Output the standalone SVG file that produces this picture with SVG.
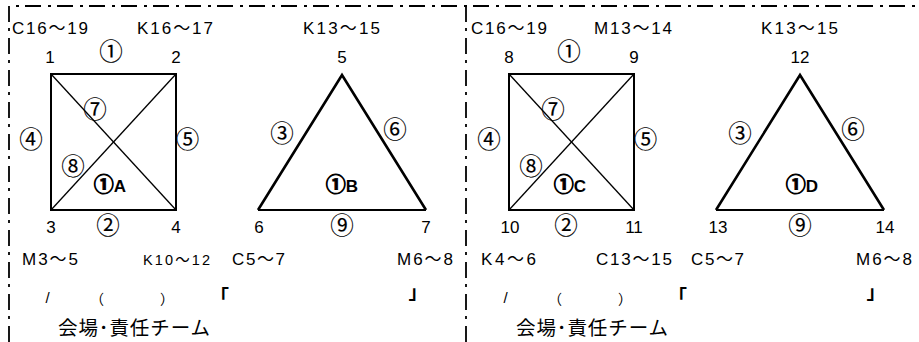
<svg xmlns="http://www.w3.org/2000/svg" width="919" height="342" viewBox="0 0 919 342">
<style>
text{fill:#000;font-family:"Liberation Sans","Noto Sans CJK JP",sans-serif}
.r{font-size:17px}
.rs{font-size:14.5px}
.n{font-size:17px;text-anchor:middle}
.c{font-family:"Noto Sans CJK JP",sans-serif;font-size:23.5px;text-anchor:middle;stroke:#000;stroke-width:0.15}
.b{font-size:17px;font-weight:bold;text-anchor:middle}
.bc{font-family:"Noto Sans CJK JP",sans-serif;font-size:20px;font-weight:bold;stroke:#000;stroke-width:0.9}
.p{font-family:"Noto Sans CJK JP",sans-serif;font-size:14px}
.k{font-family:"Noto Sans CJK JP",sans-serif;font-size:19px;font-weight:bold}
.s{font-family:"Liberation Sans",sans-serif;font-size:15px;text-anchor:middle}
.j{font-family:"Noto Sans CJK JP",sans-serif;font-size:19.5px}
.frame{fill:none;stroke:#000;stroke-width:1.8;stroke-dasharray:16 7 3 6}
.sq{fill:none;stroke:#000;stroke-width:2}
.dg{stroke:#000;stroke-width:1.3}
.ts{fill:none;stroke:#000;stroke-width:2.6;stroke-linejoin:miter}
.tb{stroke:#000;stroke-width:2}
</style>
<rect width="919" height="342" fill="#fff"/>
<g id="frame">
<path class="frame" d="M9,342 V6 H919"/>
<path class="frame" d="M466,342 V6"/>
</g>
<g id="connectors">
<line class="dg" x1="51" y1="74" x2="176" y2="210"/>
<line class="dg" x1="176" y1="74" x2="51" y2="210"/>
<line class="dg" x1="509" y1="74" x2="634" y2="210"/>
<line class="dg" x1="634" y1="74" x2="509" y2="210"/>
</g>
<g id="node-1A">
<rect class="sq" x="51" y="74" width="125" height="136"/>
<text class="b" x="110" y="192"><tspan class="bc">①</tspan>A</text>
</g>
<g id="node-1B">
<path class="ts" d="M258,210 L342,75 L426,210"/>
<line class="tb" x1="258" y1="210" x2="426" y2="210"/>
<text class="b" x="342" y="192"><tspan class="bc">①</tspan>B</text>
</g>
<g id="node-1C">
<rect class="sq" x="509" y="74" width="125" height="136"/>
<text class="b" x="570" y="192"><tspan class="bc">①</tspan>C</text>
</g>
<g id="node-1D">
<path class="ts" d="M716,210 L800,75 L884,210"/>
<line class="tb" x1="716" y1="210" x2="884" y2="210"/>
<text class="b" x="802" y="192"><tspan class="bc">①</tspan>D</text>
</g>
<g id="labels-left">
<text class="r" x="12" y="34" textLength="76" lengthAdjust="spacing">C16～19</text>
<text class="r" x="137" y="34" textLength="76" lengthAdjust="spacing">K16～17</text>
<text class="r" x="303" y="34" textLength="77" lengthAdjust="spacing">K13～15</text>
<text class="n" x="50" y="63">1</text>
<text class="n" x="176" y="63">2</text>
<text class="n" x="342" y="63">5</text>
<text class="c" x="111" y="60.2">①</text>
<text class="c" x="95" y="118.2">⑦</text>
<text class="c" x="31" y="148.2">④</text>
<text class="c" x="187.5" y="148.2">⑤</text>
<text class="c" x="73" y="174.8">⑧</text>
<text class="c" x="282" y="142.2">③</text>
<text class="c" x="395" y="138.2">⑥</text>
<text class="c" x="108" y="233.8">②</text>
<text class="c" x="342" y="233.8">⑨</text>
<text class="n" x="51" y="233">3</text>
<text class="n" x="176" y="233">4</text>
<text class="n" x="259" y="233">6</text>
<text class="n" x="426" y="233">7</text>
<text class="r" x="22" y="265" textLength="56" lengthAdjust="spacing">M3～5</text>
<text class="rs" x="143" y="265" textLength="67" lengthAdjust="spacing">K10～12</text>
<text class="r" x="232" y="265" textLength="53" lengthAdjust="spacing">C5～7</text>
<text class="r" x="397" y="265" textLength="56" lengthAdjust="spacing">M6～8</text>
<text class="s" x="47.5" y="303">/</text>
<text class="p" x="90" y="304">（</text>
<text class="p" x="160" y="304">）</text>
<text class="k" x="210" y="303.7">「</text>
<text class="k" x="408.5" y="298.7">」</text>
<text class="j" x="58" y="335" textLength="152" lengthAdjust="spacing">会場･責任チーム</text>
</g>
<g id="labels-right">
<text class="r" x="471" y="34" textLength="76" lengthAdjust="spacing">C16～19</text>
<text class="r" x="594" y="34" textLength="78" lengthAdjust="spacing">M13～14</text>
<text class="r" x="761" y="34" textLength="77" lengthAdjust="spacing">K13～15</text>
<text class="n" x="509" y="63">8</text>
<text class="n" x="634" y="63">9</text>
<text class="n" x="800" y="63">12</text>
<text class="c" x="569" y="60.2">①</text>
<text class="c" x="553" y="118.2">⑦</text>
<text class="c" x="489" y="148.2">④</text>
<text class="c" x="645.5" y="148.2">⑤</text>
<text class="c" x="531" y="174.8">⑧</text>
<text class="c" x="740" y="142.2">③</text>
<text class="c" x="853" y="138.2">⑥</text>
<text class="c" x="566" y="233.8">②</text>
<text class="c" x="800" y="233.8">⑨</text>
<text class="n" x="510" y="233">10</text>
<text class="n" x="634" y="233">11</text>
<text class="n" x="718" y="233">13</text>
<text class="n" x="885" y="233">14</text>
<text class="r" x="481" y="265" textLength="55" lengthAdjust="spacing">K4～6</text>
<text class="r" x="596" y="265" textLength="76" lengthAdjust="spacing">C13～15</text>
<text class="r" x="691" y="265" textLength="53" lengthAdjust="spacing">C5～7</text>
<text class="r" x="856" y="265" textLength="56" lengthAdjust="spacing">M6～8</text>
<text class="s" x="505.5" y="303">/</text>
<text class="p" x="548" y="304">（</text>
<text class="p" x="618" y="304">）</text>
<text class="k" x="668" y="303.7">「</text>
<text class="k" x="866.5" y="298.7">」</text>
<text class="j" x="516" y="335" textLength="152" lengthAdjust="spacing">会場･責任チーム</text>
</g>
</svg>
